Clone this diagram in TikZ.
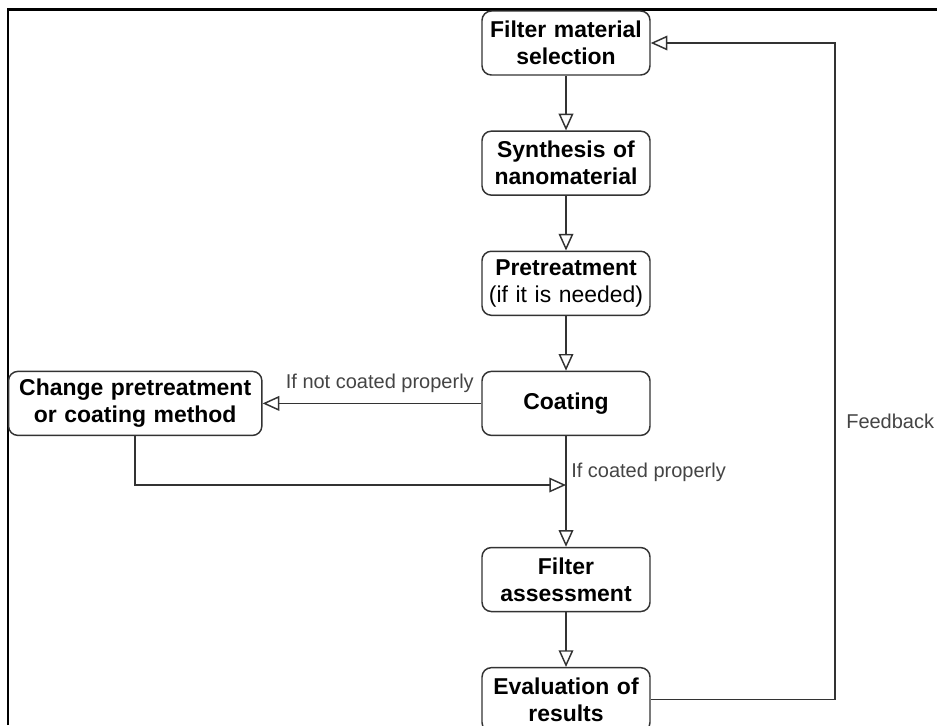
\documentclass[tikz,border=0pt]{standalone}
\usepackage{fontspec}
\setmainfont{Liberation Sans}
\usepackage{xcolor}
\usetikzlibrary{arrows.meta}
\usetikzlibrary{positioning}
\definecolor{linha}{HTML}{333333}
\definecolor{cinza}{HTML}{444444}
\tikzset{
  stage/.style={draw=linha, line width=1.1pt, rounded corners=7pt, fill=white, align=center, text width=#1, minimum height=48pt, inner sep=2pt, font=\fontsize{17.2}{20.3}\selectfont\bfseries},
  stage/.default=122pt,
  link/.style={-{Triangle[open, length=12.5pt, width=11pt]}, line width=1.1pt, draw=linha},
  note/.style={font=\fontsize{15}{18}\selectfont, text=cinza, inner sep=0pt},
}

\begin{document}
\begin{tikzpicture}[x=0.75pt, y=-0.75pt, node distance=41pt]
  \useasboundingbox (0,0) rectangle (937,725);
  \draw[line width=1.6pt] (8,725) -- (8,9.5) -- (937,9.5);

  \node[stage] (sel) at (566,43) {Filter material\\selection};
  \node[stage, below=of sel] (syn) {Synthesis of\\nanomaterial};
  \node[stage, below=of syn] (pre) {Pretreatment\\\mdseries (if it is needed)};
  \node[stage, below=of pre] (coat) {Coating};
  \node[stage, below=83pt of coat] (asse) {Filter\\assessment};
  \node[stage, below=of asse] (eval) {Evaluation of\\results};
  \node[stage=186pt, left=164pt of coat] (chg) {Change pretreatment\\or coating method};

  \draw[link] (sel) -- (syn); \draw[link] (syn) -- (pre); \draw[link] (pre) -- (coat);
  \draw[link] (coat) -- (asse); \draw[link] (asse) -- (eval);
  \draw[link] (coat) -- (chg);
  \coordinate (junta) at (coat.south |- 0,485);
  \draw[link] (chg.south) |- (junta);
  \coordinate (volta) at (835,43);
  \draw[link] (eval.east) -| (volta) -- (sel.east);

  \node[note, anchor=east] (semcapa) at (474,383) {If not coated properly};
  \node[note, anchor=west] (comcapa) at (571,472) {If coated properly};
  \node[note, anchor=west] (retorno) at (846,421) {Feedback};
\end{tikzpicture}
\end{document}
